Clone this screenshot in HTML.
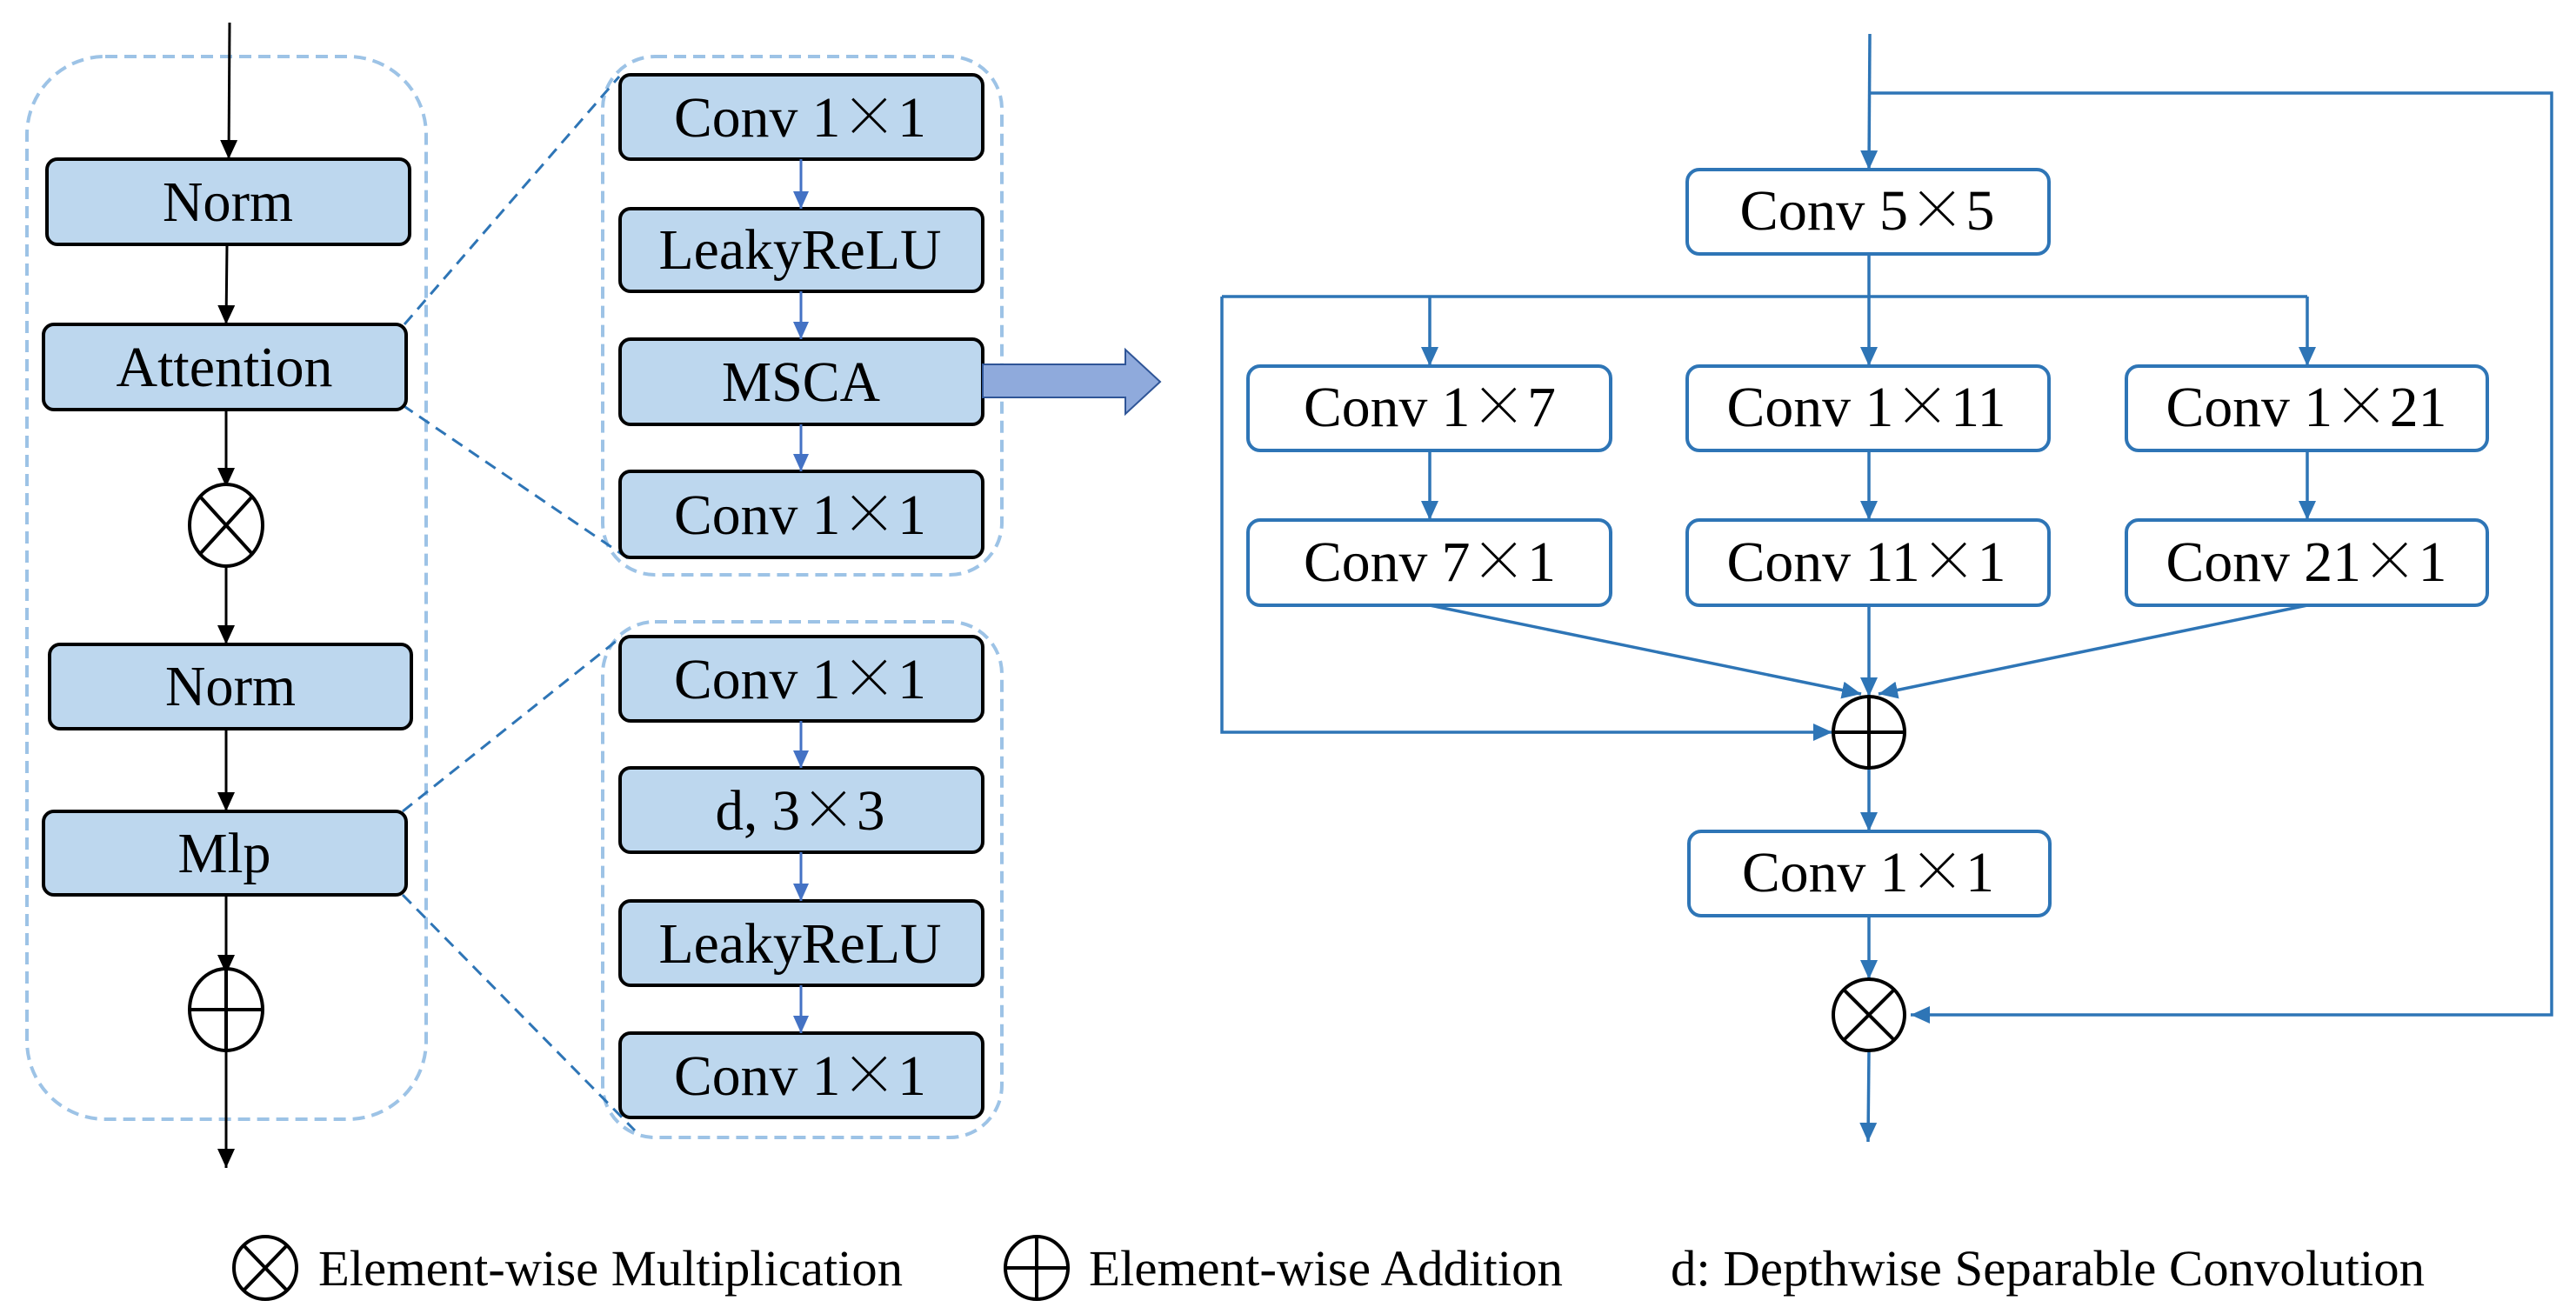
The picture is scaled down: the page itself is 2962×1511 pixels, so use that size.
<!DOCTYPE html>
<html><head><meta charset="utf-8"><style>
html,body{margin:0;padding:0;background:#fff;}
svg{display:block;}
text{font-family:"Liberation Serif","Times New Roman",serif;fill:#000;}
tspan.x{font-family:"Noto Serif CJK SC","Noto Sans CJK SC",serif;}
</style></head><body>
<svg width="2962" height="1511" viewBox="0 0 2962 1511" xmlns="http://www.w3.org/2000/svg" font-family="Liberation Serif, serif">
<defs>
<marker id="ablk" markerWidth="22" markerHeight="20" refX="22" refY="10" orient="auto" markerUnits="userSpaceOnUse"><path d="M0,0 L22,10 L0,20 z" fill="#000"/></marker>
<marker id="ablu" markerWidth="22" markerHeight="20" refX="22" refY="10" orient="auto" markerUnits="userSpaceOnUse"><path d="M0,0 L22,10 L0,20 z" fill="#2E75B6"/></marker>
<marker id="amid" markerWidth="20" markerHeight="18" refX="20" refY="9" orient="auto" markerUnits="userSpaceOnUse"><path d="M0,0 L20,9 L0,18 z" fill="#4472C4"/></marker>
</defs>

<rect x="31" y="65" width="459" height="1222" rx="90" fill="none" stroke="#9DC3E6" stroke-width="4" stroke-dasharray="14 8"/>
<rect x="693" y="65" width="459" height="596" rx="60" fill="none" stroke="#9DC3E6" stroke-width="4" stroke-dasharray="14 8"/>
<rect x="693" y="715" width="459" height="593" rx="60" fill="none" stroke="#9DC3E6" stroke-width="4" stroke-dasharray="14 8"/>

<g stroke="#2E75B6" stroke-width="3" stroke-dasharray="14 9" fill="none">
<line x1="465" y1="373" x2="712" y2="88"/>
<line x1="463" y1="466" x2="722" y2="642"/>
<line x1="463" y1="933" x2="715" y2="732"/>
<line x1="463" y1="1029" x2="730" y2="1300"/>
</g>

<g stroke="#000" stroke-width="3" fill="none">
<line x1="264" y1="26" x2="263" y2="183" marker-end="url(#ablk)"/>
<line x1="261" y1="281" x2="260" y2="373" marker-end="url(#ablk)"/>
<line x1="260" y1="471" x2="260" y2="560" marker-end="url(#ablk)"/>
<line x1="260" y1="652" x2="260" y2="741" marker-end="url(#ablk)"/>
<line x1="260" y1="838" x2="260" y2="933" marker-end="url(#ablk)"/>
<line x1="260" y1="1029" x2="260" y2="1120" marker-end="url(#ablk)"/>
<line x1="260" y1="1120" x2="260" y2="1343" marker-end="url(#ablk)"/>
</g>

<g fill="#BDD7EE" stroke="#000" stroke-width="4">
<rect x="54" y="183" width="417" height="98" rx="12"/>
<rect x="50" y="373" width="417" height="98" rx="12"/>
<rect x="57" y="741" width="416" height="97" rx="12"/>
<rect x="50" y="933" width="417" height="96" rx="12"/>
</g>
<g font-size="66" text-anchor="middle">
<text x="262" y="254" textLength="150" lengthAdjust="spacingAndGlyphs">Norm</text>
<text x="258" y="444" textLength="249" lengthAdjust="spacingAndGlyphs">Attention</text>
<text x="265" y="811" textLength="150" lengthAdjust="spacingAndGlyphs">Norm</text>
<text x="258" y="1003" textLength="107" lengthAdjust="spacingAndGlyphs">Mlp</text>
</g>

<g stroke="#000" stroke-width="4" fill="#fff">
<ellipse cx="260" cy="604" rx="42" ry="47"/>
<ellipse cx="260" cy="1161" rx="42" ry="47"/>
</g>
<g stroke="#000" stroke-width="4">
<line x1="230" y1="571" x2="290" y2="637"/><line x1="290" y1="571" x2="230" y2="637"/>
<line x1="218" y1="1161" x2="302" y2="1161"/><line x1="260" y1="1114" x2="260" y2="1208"/>
</g>

<g fill="#BDD7EE" stroke="#000" stroke-width="4">
<rect x="713" y="86" width="417" height="97" rx="12"/>
<rect x="713" y="240" width="417" height="95" rx="12"/>
<rect x="713" y="390" width="417" height="98" rx="12"/>
<rect x="713" y="542" width="417" height="99" rx="12"/>
<rect x="713" y="732" width="417" height="97" rx="12"/>
<rect x="713" y="883" width="417" height="97" rx="12"/>
<rect x="713" y="1036" width="417" height="97" rx="12"/>
<rect x="713" y="1188" width="417" height="97" rx="12"/>
</g>
<g stroke="#4472C4" stroke-width="3">
<line x1="921" y1="183" x2="921" y2="240" marker-end="url(#amid)"/>
<line x1="921" y1="335" x2="921" y2="390" marker-end="url(#amid)"/>
<line x1="921" y1="488" x2="921" y2="542" marker-end="url(#amid)"/>
<line x1="921" y1="829" x2="921" y2="883" marker-end="url(#amid)"/>
<line x1="921" y1="980" x2="921" y2="1036" marker-end="url(#amid)"/>
<line x1="921" y1="1133" x2="921" y2="1188" marker-end="url(#amid)"/>
</g>
<g font-size="66" text-anchor="middle">
<text x="920" y="157" textLength="290" lengthAdjust="spacingAndGlyphs">Conv 1<tspan class="x">×</tspan>1</text>
<text x="920" y="309" textLength="325" lengthAdjust="spacingAndGlyphs">LeakyReLU</text>
<text x="921" y="461" textLength="182" lengthAdjust="spacingAndGlyphs">MSCA</text>
<text x="920" y="614" textLength="290" lengthAdjust="spacingAndGlyphs">Conv 1<tspan class="x">×</tspan>1</text>
<text x="920" y="803" textLength="290" lengthAdjust="spacingAndGlyphs">Conv 1<tspan class="x">×</tspan>1</text>
<text x="920" y="954" textLength="195" lengthAdjust="spacingAndGlyphs">d, 3<tspan class="x">×</tspan>3</text>
<text x="920" y="1107" textLength="325" lengthAdjust="spacingAndGlyphs">LeakyReLU</text>
<text x="920" y="1259" textLength="290" lengthAdjust="spacingAndGlyphs">Conv 1<tspan class="x">×</tspan>1</text>
</g>

<path d="M1130,419 L1294,419 L1294,402 L1334,439 L1294,476 L1294,457 L1130,457 z" fill="#8FAADC" stroke="#2F5597" stroke-width="2"/>

<g stroke="#2E75B6" stroke-width="3.5" fill="none">
<line x1="2150" y1="39" x2="2149" y2="195" marker-end="url(#ablu)"/>
<polyline points="2150,107 2934,107 2934,1167 2197,1167" marker-end="url(#ablu)"/>
<line x1="2149" y1="292" x2="2149" y2="341"/>
<line x1="1405" y1="341" x2="2653" y2="341"/>
<line x1="1644" y1="341" x2="1644" y2="421" marker-end="url(#ablu)"/>
<line x1="2149" y1="341" x2="2149" y2="421" marker-end="url(#ablu)"/>
<line x1="2653" y1="341" x2="2653" y2="421" marker-end="url(#ablu)"/>
<line x1="1644" y1="518" x2="1644" y2="598" marker-end="url(#ablu)"/>
<line x1="2149" y1="518" x2="2149" y2="598" marker-end="url(#ablu)"/>
<line x1="2653" y1="518" x2="2653" y2="598" marker-end="url(#ablu)"/>
<line x1="1644" y1="696" x2="2140" y2="798" marker-end="url(#ablu)"/>
<line x1="2149" y1="696" x2="2149" y2="801" marker-end="url(#ablu)"/>
<line x1="2653" y1="696" x2="2160" y2="798" marker-end="url(#ablu)"/>
<polyline points="1405,341 1405,842 2107,842" marker-end="url(#ablu)"/>
<line x1="2149" y1="883" x2="2149" y2="956" marker-end="url(#ablu)"/>
<line x1="2149" y1="1053" x2="2149" y2="1126" marker-end="url(#ablu)"/>
<line x1="2149" y1="1208" x2="2148" y2="1313" marker-end="url(#ablu)"/>
</g>
<g fill="#fff" stroke="#2E75B6" stroke-width="4">
<rect x="1940" y="195" width="416" height="97" rx="14"/>
<rect x="1435" y="421" width="417" height="97" rx="14"/>
<rect x="1940" y="421" width="416" height="97" rx="14"/>
<rect x="2445" y="421" width="415" height="97" rx="14"/>
<rect x="1435" y="598" width="417" height="98" rx="14"/>
<rect x="1940" y="598" width="416" height="98" rx="14"/>
<rect x="2445" y="598" width="415" height="98" rx="14"/>
<rect x="1942" y="956" width="415" height="97" rx="14"/>
</g>
<g font-size="66" text-anchor="middle">
<text x="2147" y="264" textLength="293" lengthAdjust="spacingAndGlyphs">Conv 5<tspan class="x">×</tspan>5</text>
<text x="1644" y="490" textLength="290" lengthAdjust="spacingAndGlyphs">Conv 1<tspan class="x">×</tspan>7</text>
<text x="2146" y="490" textLength="321" lengthAdjust="spacingAndGlyphs">Conv 1<tspan class="x">×</tspan>11</text>
<text x="2652" y="490" textLength="323" lengthAdjust="spacingAndGlyphs">Conv 1<tspan class="x">×</tspan>21</text>
<text x="1644" y="668" textLength="290" lengthAdjust="spacingAndGlyphs">Conv 7<tspan class="x">×</tspan>1</text>
<text x="2146" y="668" textLength="321" lengthAdjust="spacingAndGlyphs">Conv 11<tspan class="x">×</tspan>1</text>
<text x="2652" y="668" textLength="323" lengthAdjust="spacingAndGlyphs">Conv 21<tspan class="x">×</tspan>1</text>
<text x="2148" y="1025" textLength="290" lengthAdjust="spacingAndGlyphs">Conv 1<tspan class="x">×</tspan>1</text>
</g>
<g stroke="#000" stroke-width="4" fill="#fff">
<ellipse cx="2149" cy="842" rx="41" ry="41"/>
<ellipse cx="2149" cy="1167" rx="41" ry="41"/>
</g>
<g stroke="#000" stroke-width="4">
<line x1="2108" y1="842" x2="2190" y2="842"/><line x1="2149" y1="801" x2="2149" y2="883"/>
<line x1="2120" y1="1138" x2="2178" y2="1196"/><line x1="2178" y1="1138" x2="2120" y2="1196"/>
</g>

<g stroke="#000" stroke-width="4" fill="none">
<ellipse cx="305" cy="1458" rx="36" ry="36"/>
<line x1="280" y1="1432" x2="330" y2="1484"/><line x1="330" y1="1432" x2="280" y2="1484"/>
<ellipse cx="1192" cy="1458" rx="36" ry="36"/>
<line x1="1156" y1="1458" x2="1228" y2="1458"/><line x1="1192" y1="1422" x2="1192" y2="1494"/>
</g>
<g font-size="58">
<text x="366" y="1478" textLength="672" lengthAdjust="spacingAndGlyphs">Element-wise Multiplication</text>
<text x="1252" y="1478" textLength="545" lengthAdjust="spacingAndGlyphs">Element-wise Addition</text>
<text x="1921" y="1478" textLength="867" lengthAdjust="spacingAndGlyphs">d: Depthwise Separable Convolution</text>
</g>
</svg>
</body></html>
